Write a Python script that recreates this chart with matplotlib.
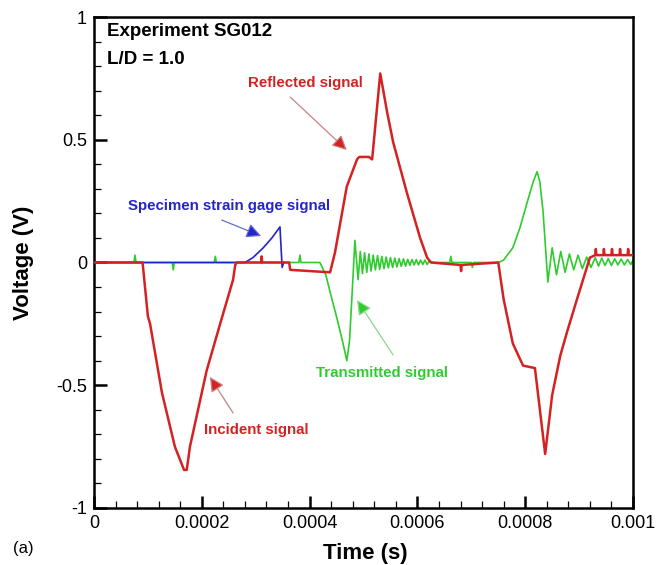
import matplotlib
matplotlib.use('Agg')
from matplotlib import pyplot as plt
from matplotlib.ticker import MultipleLocator

plt.rcParams['font.family'] = ['Liberation Sans', 'DejaVu Sans']

# time in units of 1e-4 s, voltage in V
red_t = [0, 0.90, 0.91, 1.00, 1.04, 1.26, 1.50, 1.67, 1.72, 1.78, 2.09, 2.34, 2.58, 2.62,
         2.65, 3.10, 3.11, 3.12, 3.62, 3.64, 4.38, 4.47, 4.69, 4.88, 4.92, 5.10, 5.16,
         5.31, 5.44, 5.55, 5.81, 6.05, 6.18, 6.25, 6.80, 6.81, 6.82, 7.50, 7.60, 7.77,
         7.96, 8.18, 8.37, 8.50, 8.65, 8.78, 8.96, 9.20, 9.30, 9.31, 9.32, 9.45, 9.46,
         9.47, 9.60, 9.61, 9.62, 9.75, 9.76, 9.77, 9.90, 9.91, 9.92, 10.0]
red_v = [0, 0, -0.02, -0.22, -0.25, -0.53, -0.75, -0.845, -0.845, -0.75, -0.44, -0.25,
         -0.07, -0.01, 0.0, 0.0, 0.025, 0.0, 0.0, -0.03, -0.04, 0.04, 0.31, 0.42, 0.43,
         0.43, 0.42, 0.77, 0.61, 0.49, 0.28, 0.10, 0.02, 0.0, -0.01, -0.035, -0.01, 0.0,
         -0.15, -0.33, -0.42, -0.43, -0.78, -0.54, -0.38, -0.28, -0.15, 0.02, 0.03, 0.055,
         0.03, 0.03, 0.055, 0.03, 0.03, 0.055, 0.03, 0.03, 0.055, 0.03, 0.03, 0.055,
         0.03, 0.03]

green_t = [0, 0.74, 0.76, 0.78, 1.45, 1.47, 1.49, 2.23, 2.25, 2.27, 3.80, 3.82, 3.84,
           4.19, 4.30, 4.38, 4.51, 4.62, 4.69, 4.74, 4.79, 4.84, 4.90, 4.94, 4.98, 5.02,
           5.06, 5.10, 5.14, 5.18, 5.22, 5.26, 5.30, 5.34, 5.38, 5.42, 5.46, 5.50, 5.54,
           5.58, 5.62, 5.66, 5.70, 5.74, 5.78, 5.82, 5.86, 5.90, 5.94, 5.98, 6.02, 6.06,
           6.10, 6.14, 6.18, 6.22, 6.30, 6.60, 6.62, 6.64, 7.00, 7.02, 7.04, 7.50, 7.60,
           7.77, 7.90, 8.03, 8.15, 8.22, 8.27, 8.33, 8.38, 8.42, 8.50, 8.58, 8.66, 8.74,
           8.82, 8.90, 8.98, 9.06, 9.14, 9.22, 9.30, 9.36, 9.42, 9.48, 9.54, 9.60, 9.66,
           9.72, 9.78, 9.84, 9.90, 9.96, 10.0]
green_v = [0, 0, 0.03, 0, 0, -0.03, 0, 0, 0.025, 0, 0, 0.03, 0,
           0.0, -0.05, -0.12, -0.23, -0.33, -0.40, -0.32, -0.12, 0.09, -0.07, 0.045,
           -0.045, 0.04, -0.04, 0.035, -0.035, 0.03, -0.03, 0.028, -0.028, 0.025, -0.025,
           0.022, -0.022, 0.02, -0.02, 0.018, -0.018, 0.016, -0.016, 0.015, -0.015, 0.013,
           -0.012, 0.012, -0.01, 0.012, -0.01, 0.01, -0.008, 0.01, -0.008, 0.006, 0.0, 0.0,
           0.025, 0.0, 0.0, -0.02, 0.0, 0.0, 0.01, 0.06, 0.14, 0.24, 0.33, 0.37, 0.33, 0.21,
           0.05, -0.08, 0.06, -0.05, 0.045, -0.04, 0.035, -0.03, 0.03, -0.025, 0.022, -0.02,
           0.02, -0.015, 0.018, -0.012, 0.016, -0.012, 0.015, -0.01, 0.014, -0.01, 0.012,
           -0.008, 0.01]

blue_t = [0, 2.80, 2.95, 3.14, 3.30, 3.45, 3.49, 3.52]
blue_v = [0, 0, 0.02, 0.06, 0.10, 0.145, -0.02, 0.0]

x_ticks = [0, 0.0002, 0.0004, 0.0006, 0.0008, 0.001]
x_tick_labels = ['0', '0.0002', '0.0004', '0.0006', '0.0008', '0.001']
y_ticks = [-1, -0.5, 0, 0.5, 1]
y_tick_labels = ['-1', '-0.5', '0', '0.5', '1']

RED = '#d42222'
GREEN = '#2ecc2e'
BLUE = '#2424c8'


def s(t):
    return [v * 1e-4 for v in t]


fig = plt.figure(figsize=(6.57, 5.65), dpi=100)
ax = fig.add_axes([0.1431, 0.1009, 0.8204, 0.869])

ax.plot(s(green_t), green_v, color=GREEN, lw=1.2, zorder=2)
ax.plot(s(blue_t), blue_v, color=BLUE, lw=1.2, zorder=3)
ax.plot(s(red_t), red_v, color=RED, lw=1.8, zorder=4)

ax.set_xlim(0, 0.001)
ax.set_ylim(-1, 1)
ax.set_xticks(x_ticks)
ax.set_xticklabels(x_tick_labels)
ax.set_yticks(y_ticks)
ax.set_yticklabels(y_tick_labels)
ax.xaxis.set_minor_locator(MultipleLocator(0.00004))
ax.yaxis.set_minor_locator(MultipleLocator(0.1))
ax.tick_params(which='major', direction='in', length=9, width=1.8, labelsize=13,
               top=False, right=False)
ax.tick_params(axis='x', which='major', pad=5)
ax.tick_params(axis='y', which='major', pad=5)
ax.tick_params(which='minor', direction='in', length=5, width=0.9, top=False, right=False)
for sp in ax.spines.values():
    sp.set_linewidth(1.8)

ax.set_xlabel('Time (s)', fontsize=16, fontweight='bold', va='center')
ax.xaxis.set_label_coords(0.503, -0.0917)
ax.set_ylabel('Voltage (V)', fontsize=16, fontweight='bold', va='center')
ax.yaxis.set_label_coords(-0.130, 0.5)
fig.text(13 / 657, 1 - 549 / 565, '(a)', fontsize=12, va='center', ha='left')


def p(t, v):
    return (t * 1e-4, v)


ax.text(0.24e-4, 0.939, 'Experiment SG012', fontsize=13.5, fontweight='bold', va='center')
ax.text(0.24e-4, 0.825, 'L/D = 1.0', fontsize=13.5, fontweight='bold', va='center')

notes = [
    ('Reflected signal', RED, '#c98080', (3.92, 0.731), (3.64, 0.674), (4.69, 0.458)),
    ('Specimen strain gage signal', BLUE, '#6a6ad0', (2.50, 0.230), (2.37, 0.173), (3.10, 0.108)),
    ('Transmitted signal', GREEN, '#88d888', (5.34, -0.450), (5.55, -0.377), (4.88, -0.153)),
    ('Incident signal', RED, '#c98080', (3.02, -0.682), (2.58, -0.613), (2.15, -0.466)),
]
for label, tc, lc, pos, tail, head in notes:
    ax.text(*p(*pos), label, color=tc, fontsize=10.8, fontweight='bold',
            ha='center', va='center', zorder=6)
    ax.annotate('', xy=p(*head), xytext=p(*tail),
                arrowprops=dict(arrowstyle='-|>', ec=lc, fc=tc, lw=0.9,
                                mutation_scale=22, shrinkA=0, shrinkB=0),
                zorder=6)

plt.savefig('out.png', dpi=100)
